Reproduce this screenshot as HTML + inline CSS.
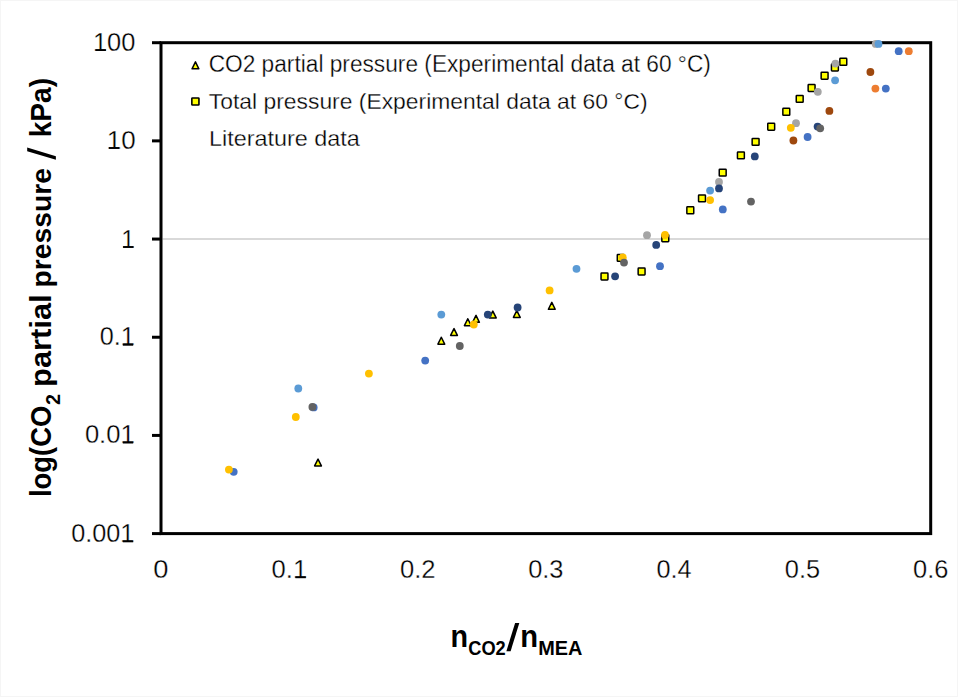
<!DOCTYPE html><html><head><meta charset="utf-8"><style>html,body{margin:0;padding:0;background:#fff;width:958px;height:697px;overflow:hidden}svg{display:block}text{font-family:"Liberation Sans",sans-serif}</style></head><body>
<svg width="958" height="697" viewBox="0 0 958 697">
<rect width="958" height="697" fill="#fff"/>
<rect x="0.5" y="0.5" width="957" height="696" fill="none" stroke="#F5F5F5" stroke-width="1"/>
<line x1="162.5" y1="239.06" x2="929.2" y2="239.06" stroke="#D9D9D9" stroke-width="2"/>
<rect x="161.0" y="42.7" width="769.70" height="490.90" fill="none" stroke="#000" stroke-width="3"/>
<line x1="152" y1="42.70" x2="161.0" y2="42.70" stroke="#000" stroke-width="3"/>
<line x1="152" y1="140.88" x2="161.0" y2="140.88" stroke="#000" stroke-width="3"/>
<line x1="152" y1="239.06" x2="161.0" y2="239.06" stroke="#000" stroke-width="3"/>
<line x1="152" y1="337.24" x2="161.0" y2="337.24" stroke="#000" stroke-width="3"/>
<line x1="152" y1="435.42" x2="161.0" y2="435.42" stroke="#000" stroke-width="3"/>
<line x1="152" y1="533.60" x2="161.0" y2="533.60" stroke="#000" stroke-width="3"/>
<text transform="matrix(1.0168 0 0 1.0141 92.97 50.75)" font-size="25" stroke="#fff" stroke-width="0.3" fill="#000" xml:space="preserve">100</text>
<text transform="matrix(1.0384 0 0 1.0310 106.72 148.64)" font-size="25" stroke="#fff" stroke-width="0.3" fill="#000" xml:space="preserve">10</text>
<text transform="matrix(0.9674 0 0 1.0551 121.17 247.90)" font-size="25" stroke="#fff" stroke-width="0.3" fill="#000" xml:space="preserve">1</text>
<text transform="matrix(1.0092 0 0 1.0366 99.69 345.44)" font-size="25" stroke="#fff" stroke-width="0.3" fill="#000" xml:space="preserve">0.1</text>
<text transform="matrix(1.0237 0 0 1.0423 84.88 443.24)" font-size="25" stroke="#fff" stroke-width="0.3" fill="#000" xml:space="preserve">0.01</text>
<text transform="matrix(1.0099 0 0 1.0366 71.19 542.04)" font-size="25" stroke="#fff" stroke-width="0.3" fill="#000" xml:space="preserve">0.001</text>
<text transform="matrix(1.0917 0 0 1.0085 153.36 577.95)" font-size="25" stroke="#fff" stroke-width="0.3" fill="#000" xml:space="preserve">0</text>
<text transform="matrix(1.0246 0 0 1.0085 271.61 577.95)" font-size="25" stroke="#fff" stroke-width="0.3" fill="#000" xml:space="preserve">0.1</text>
<text transform="matrix(1.0246 0 0 1.0085 399.89 577.95)" font-size="25" stroke="#fff" stroke-width="0.3" fill="#000" xml:space="preserve">0.2</text>
<text transform="matrix(1.0168 0 0 1.0085 528.18 577.95)" font-size="25" stroke="#fff" stroke-width="0.3" fill="#000" xml:space="preserve">0.3</text>
<text transform="matrix(1.0091 0 0 1.0085 656.47 577.95)" font-size="25" stroke="#fff" stroke-width="0.3" fill="#000" xml:space="preserve">0.4</text>
<text transform="matrix(1.0168 0 0 1.0085 784.75 577.95)" font-size="25" stroke="#fff" stroke-width="0.3" fill="#000" xml:space="preserve">0.5</text>
<text transform="matrix(1.0168 0 0 1.0085 913.03 577.95)" font-size="25" stroke="#fff" stroke-width="0.3" fill="#000" xml:space="preserve">0.6</text>
<text transform="matrix(1.0319 0 0 1.0499 208.66 72.17)" font-size="22" stroke="#fff" stroke-width="0.3" fill="#000" xml:space="preserve">CO2 partial pressure (Experimental data at 60 °C)</text>
<text transform="matrix(1.0400 0 0 1.0253 208.84 108.62)" font-size="22" stroke="#fff" stroke-width="0.3" fill="#000" xml:space="preserve">Total pressure (Experimental data at 60 °C)</text>
<text transform="matrix(1.0639 0 0 1.0408 208.93 145.50)" font-size="22" stroke="#fff" stroke-width="0.3" fill="#000" xml:space="preserve">Literature data</text>
<text transform="matrix(0.8456 0 0 0.9096 450.49 646.70)" font-size="34" font-weight="bold" fill="#000" xml:space="preserve">n</text>
<text transform="matrix(1.0725 0 0 1.1765 468.27 655.30)" font-size="17" font-weight="bold" fill="#000" xml:space="preserve">CO2</text>
<text transform="matrix(0.8578 0 0 0.9096 520.26 646.70)" font-size="34" font-weight="bold" fill="#000" xml:space="preserve">n</text>
<text transform="matrix(1.1709 0 0 1.1345 538.21 655.10)" font-size="17" font-weight="bold" fill="#000" xml:space="preserve">MEA</text>
<g>
<text transform="matrix(0 -0.9161 1.0091 0 50.90 497.12)" font-size="30" font-weight="bold" fill="#000" xml:space="preserve">log(CO</text>
<text transform="matrix(0 -1.0419 1.0376 0 59.60 404.99)" font-size="19" font-weight="bold" fill="#000" xml:space="preserve">2</text>
<text transform="matrix(0 -1.0291 1.0046 0 50.90 386.96)" font-size="30" font-weight="bold" fill="#000" xml:space="preserve">partial</text>
<text transform="matrix(0 -0.9417 0.9244 0 50.78 287.48)" font-size="30" font-weight="bold" fill="#000" xml:space="preserve">pressure</text>
<text transform="matrix(0 -0.9397 1.0046 0 50.90 137.37)" font-size="30" font-weight="bold" fill="#000" xml:space="preserve">kPa)</text>
</g>
<polygon points="515.1,622.9 519.3,622.9 510.6,651.3 506.4,651.3" fill="#000"/>
<polygon points="27.2,147.6 27.2,151.2 55.9,159.8 55.9,156.2" fill="#000"/>
<rect x="95.50" y="49.20" width="10.4" height="1.8" fill="#000"/>
<rect x="108.80" y="147.10" width="10.4" height="1.8" fill="#000"/>
<rect x="123.10" y="246.10" width="10.4" height="1.8" fill="#000"/>
<rect x="122.80" y="343.90" width="10.4" height="1.8" fill="#000"/>
<rect x="122.80" y="441.70" width="10.4" height="1.8" fill="#000"/>
<rect x="122.80" y="540.50" width="10.4" height="1.8" fill="#000"/>
<rect x="295.40" y="576.40" width="10.4" height="1.8" fill="#000"/>
<rect x="601.05" y="273.05" width="6.9" height="6.9" rx="0.6" fill="#FFFF00" stroke="#000" stroke-width="1.5"/>
<rect x="617.30" y="254.45" width="6.9" height="6.9" rx="0.6" fill="#FFFF00" stroke="#000" stroke-width="1.5"/>
<rect x="638.15" y="268.05" width="6.9" height="6.9" rx="0.6" fill="#FFFF00" stroke="#000" stroke-width="1.5"/>
<rect x="661.85" y="234.75" width="6.9" height="6.9" rx="0.6" fill="#FFFF00" stroke="#000" stroke-width="1.5"/>
<rect x="686.85" y="206.85" width="6.9" height="6.9" rx="0.6" fill="#FFFF00" stroke="#000" stroke-width="1.5"/>
<rect x="698.55" y="194.95" width="6.9" height="6.9" rx="0.6" fill="#FFFF00" stroke="#000" stroke-width="1.5"/>
<rect x="719.25" y="169.15" width="6.9" height="6.9" rx="0.6" fill="#FFFF00" stroke="#000" stroke-width="1.5"/>
<rect x="737.45" y="151.95" width="6.9" height="6.9" rx="0.6" fill="#FFFF00" stroke="#000" stroke-width="1.5"/>
<rect x="752.15" y="138.45" width="6.9" height="6.9" rx="0.6" fill="#FFFF00" stroke="#000" stroke-width="1.5"/>
<rect x="767.75" y="123.25" width="6.9" height="6.9" rx="0.6" fill="#FFFF00" stroke="#000" stroke-width="1.5"/>
<rect x="782.85" y="108.35" width="6.9" height="6.9" rx="0.6" fill="#FFFF00" stroke="#000" stroke-width="1.5"/>
<rect x="796.25" y="95.45" width="6.9" height="6.9" rx="0.6" fill="#FFFF00" stroke="#000" stroke-width="1.5"/>
<rect x="808.15" y="84.55" width="6.9" height="6.9" rx="0.6" fill="#FFFF00" stroke="#000" stroke-width="1.5"/>
<rect x="821.15" y="72.25" width="6.9" height="6.9" rx="0.6" fill="#FFFF00" stroke="#000" stroke-width="1.5"/>
<rect x="831.45" y="64.05" width="6.9" height="6.9" rx="0.6" fill="#FFFF00" stroke="#000" stroke-width="1.5"/>
<rect x="839.85" y="58.35" width="6.9" height="6.9" rx="0.6" fill="#FFFF00" stroke="#000" stroke-width="1.5"/>
<polygon points="318.00,459.05 314.60,465.95 321.40,465.95" fill="#FFFF00" stroke="#000" stroke-width="1.5" stroke-linejoin="round"/>
<polygon points="441.30,337.25 437.90,344.15 444.70,344.15" fill="#FFFF00" stroke="#000" stroke-width="1.5" stroke-linejoin="round"/>
<polygon points="454.00,328.55 450.60,335.45 457.40,335.45" fill="#FFFF00" stroke="#000" stroke-width="1.5" stroke-linejoin="round"/>
<polygon points="467.80,318.75 464.40,325.65 471.20,325.65" fill="#FFFF00" stroke="#000" stroke-width="1.5" stroke-linejoin="round"/>
<polygon points="476.00,315.35 472.60,322.25 479.40,322.25" fill="#FFFF00" stroke="#000" stroke-width="1.5" stroke-linejoin="round"/>
<polygon points="492.80,311.05 489.40,317.95 496.20,317.95" fill="#FFFF00" stroke="#000" stroke-width="1.5" stroke-linejoin="round"/>
<polygon points="516.80,310.55 513.40,317.45 520.20,317.45" fill="#FFFF00" stroke="#000" stroke-width="1.5" stroke-linejoin="round"/>
<polygon points="551.80,302.35 548.40,309.25 555.20,309.25" fill="#FFFF00" stroke="#000" stroke-width="1.5" stroke-linejoin="round"/>
<circle cx="233.7" cy="471.8" r="3.9" fill="#4472C4"/>
<circle cx="313.7" cy="407.4" r="3.9" fill="#4472C4"/>
<circle cx="425.2" cy="360.6" r="3.9" fill="#4472C4"/>
<circle cx="660" cy="266.2" r="3.9" fill="#4472C4"/>
<circle cx="722.8" cy="209.4" r="3.9" fill="#4472C4"/>
<circle cx="807.6" cy="137" r="3.9" fill="#4472C4"/>
<circle cx="885.8" cy="88.6" r="3.9" fill="#4472C4"/>
<circle cx="898.7" cy="51.2" r="3.9" fill="#4472C4"/>
<circle cx="875.4" cy="88.6" r="3.9" fill="#ED7D31"/>
<circle cx="908.8" cy="51.2" r="3.9" fill="#ED7D31"/>
<circle cx="647" cy="235.2" r="3.9" fill="#A5A5A5"/>
<circle cx="719" cy="182" r="3.9" fill="#A5A5A5"/>
<circle cx="796" cy="123.2" r="3.9" fill="#A5A5A5"/>
<circle cx="817.8" cy="91.8" r="3.9" fill="#A5A5A5"/>
<circle cx="835.4" cy="63.6" r="3.9" fill="#A5A5A5"/>
<circle cx="875.7" cy="43.9" r="3.9" fill="#A5A5A5"/>
<circle cx="228.9" cy="469.6" r="3.9" fill="#FFC000"/>
<circle cx="295.8" cy="417" r="3.9" fill="#FFC000"/>
<circle cx="368.9" cy="373.6" r="3.9" fill="#FFC000"/>
<circle cx="473.8" cy="324.5" r="3.9" fill="#FFC000"/>
<circle cx="549.6" cy="290.4" r="3.9" fill="#FFC000"/>
<circle cx="622.8" cy="257.5" r="3.9" fill="#FFC000"/>
<circle cx="665" cy="235" r="3.9" fill="#FFC000"/>
<circle cx="710.1" cy="200.1" r="3.9" fill="#FFC000"/>
<circle cx="790.8" cy="127.8" r="3.9" fill="#FFC000"/>
<circle cx="298.3" cy="388.5" r="3.9" fill="#5B9BD5"/>
<circle cx="441.3" cy="314.6" r="3.9" fill="#5B9BD5"/>
<circle cx="576.5" cy="268.8" r="3.9" fill="#5B9BD5"/>
<circle cx="710.1" cy="190.6" r="3.9" fill="#5B9BD5"/>
<circle cx="835.1" cy="80.3" r="3.9" fill="#5B9BD5"/>
<circle cx="878.5" cy="43.9" r="3.9" fill="#5B9BD5"/>
<circle cx="487.8" cy="314.6" r="3.9" fill="#264478"/>
<circle cx="517.6" cy="307.5" r="3.9" fill="#264478"/>
<circle cx="615.1" cy="276.3" r="3.9" fill="#264478"/>
<circle cx="656.2" cy="244.9" r="3.9" fill="#264478"/>
<circle cx="719" cy="188.4" r="3.9" fill="#264478"/>
<circle cx="754.8" cy="156.4" r="3.9" fill="#264478"/>
<circle cx="817.6" cy="126.6" r="3.9" fill="#264478"/>
<circle cx="793.4" cy="140.5" r="3.9" fill="#9E480E"/>
<circle cx="829.4" cy="110.9" r="3.9" fill="#9E480E"/>
<circle cx="870.4" cy="72" r="3.9" fill="#9E480E"/>
<circle cx="312.4" cy="406.9" r="3.9" fill="#636363"/>
<circle cx="459.8" cy="346" r="3.9" fill="#636363"/>
<circle cx="624" cy="262.6" r="3.9" fill="#636363"/>
<circle cx="751" cy="201.6" r="3.9" fill="#636363"/>
<circle cx="820.2" cy="128.3" r="3.9" fill="#636363"/>
<polygon points="195.45,61.90 192.05,68.80 198.85,68.80" fill="#FFFF00" stroke="#000" stroke-width="1.5" stroke-linejoin="round"/>
<rect x="191.85" y="97.95" width="7.1" height="7.1" rx="0.6" fill="#FFFF00" stroke="#000" stroke-width="1.6"/>
</svg></body></html>
